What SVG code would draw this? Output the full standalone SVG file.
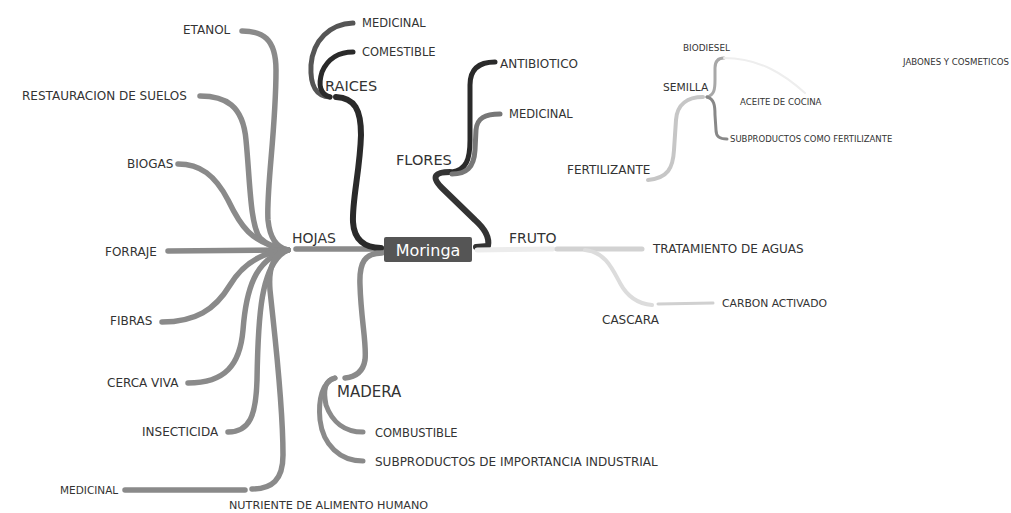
<svg xmlns="http://www.w3.org/2000/svg" width="1011" height="513" viewBox="0 0 1011 513">
<style>
text{font-family:"DejaVu Sans","Liberation Sans",sans-serif;fill:#333}
.l{font-size:12px}
.s{font-size:11.5px}
.xs{font-size:8.6px}
.m{font-size:14.5px}
path{fill:none;stroke-linecap:round;stroke-linejoin:round}
.g{stroke:#8a8a8a;stroke-width:5.5}
.d{stroke:#2a2a2a;stroke-width:6}
.dm{stroke:#555;stroke-width:5}
.mg{stroke:#777;stroke-width:5}
.lt{stroke:#d2d2d2;stroke-width:5}
</style>
<rect width="1011" height="513" fill="#fff"/>
<g id="connectors">
<path class="g" d="M383,249 L296,249"/>
<path class="g" d="M242,31 C262,31 276,38 276,70 C276,130 266,190 268,220 C270,240 278,248 288,250"/>
<path class="g" d="M200,96 C225,96 243,105 246,140 C250,180 250,225 260,238 C268,246 278,249 288,250"/>
<path class="g" d="M178,164 C200,164 215,175 228,200 C240,225 250,243 288,250"/>
<path class="g" d="M168,251 L288,250"/>
<path class="g" d="M162,322 C195,322 215,310 230,285 C242,265 260,252 288,250"/>
<path class="g" d="M188,383 C225,383 240,365 243,330 C246,290 255,258 288,250"/>
<path class="g" d="M228,432 C250,432 256,415 257,380 C258,320 260,262 288,250"/>
<path class="g" d="M252,489 C272,489 283,480 283,455 C283,400 274,330 270,290 C268,265 275,253 288,250"/>
<path class="g" d="M125,490 L245,490"/>
<path class="d" d="M336,97 C355,98 361,110 361,135 C360,170 352,200 353,222 C354,240 365,248 381,248"/>
<path class="dm" d="M330,97 C315,96 310,85 311,65 C313,40 330,24 353,23"/>
<path class="d" style="stroke-width:5" d="M330,97 C320,94 318,85 322,72 C328,58 340,52 353,52"/>
<path class="d" style="stroke:#333" d="M476,247 L488,246 C490,236 484,228 475,220 L442,188 C430,176 436,172 450,172"/>
<path class="d" style="stroke-width:5" d="M452,172 C466,170 470,160 470,140 L470,85 C470,70 478,62 495,62"/>
<path class="mg" d="M452,174 C466,174 474,168 475,150 L476,130 C477,118 485,114 500,114"/>
<path class="g" d="M382,253 C365,253 359,262 360,285 C361,320 367,345 365,360 C363,372 355,377 345,378"/>
<path class="g" style="stroke-width:5" d="M335,378 C325,380 323,390 326,405 C332,422 345,432 363,432"/>
<path class="g" style="stroke-width:5" d="M335,378 C322,382 318,400 320,420 C323,445 340,461 363,461"/>
<path stroke="#ececec" stroke-width="5" d="M477,250 L553,249"/>
<path class="lt" d="M557,249 L642,249"/>
<path stroke="#dcdcdc" stroke-width="4" d="M585,250 C605,252 612,268 620,283 C628,298 640,304 652,305"/>
<path stroke="#d0d0d0" stroke-width="3" d="M658,304 L713,303"/>
<path stroke="#c6c6c6" stroke-width="4" d="M648,180 C668,178 673,168 674,150 L676,120 C677,104 688,97 703,97"/>
<path stroke="#a8a8a8" stroke-width="3" d="M707,97 C714,95 715,90 715,80 L715,68 C715,60 719,58 724,58"/>
<path stroke="#888" stroke-width="3" d="M707,97 C714,99 715,105 715,115 L716,130 C716,137 720,139 727,139"/>
<path stroke="#eeeeee" stroke-width="2" d="M724,58 C760,58 785,75 805,93"/>
</g>
<g id="moringa"><rect x="384" y="237" width="88" height="25" rx="2" fill="#555"/><text x="428" y="256" font-size="16" text-anchor="middle" style="fill:#fff">Moringa</text></g>
<g id="hojas"><text class="m" x="292" y="243" style="font-size:14px">HOJAS</text></g>
<g id="etanol"><text class="l" x="183" y="34">ETANOL</text></g>
<g id="restauracion"><text class="l" x="22" y="100">RESTAURACION DE SUELOS</text></g>
<g id="biogas"><text class="l" x="127" y="168">BIOGAS</text></g>
<g id="forraje"><text class="l" x="105" y="256">FORRAJE</text></g>
<g id="fibras"><text class="l" x="110" y="325">FIBRAS</text></g>
<g id="cerca-viva"><text class="l" x="107" y="387">CERCA VIVA</text></g>
<g id="insecticida"><text class="l" x="142" y="436">INSECTICIDA</text></g>
<g id="medicinal-hojas"><text x="60" y="494" font-size="10.5">MEDICINAL</text></g>
<g id="nutriente"><text x="229" y="509" font-size="11.2">NUTRIENTE DE ALIMENTO HUMANO</text></g>
<g id="raices"><text class="m" x="325" y="91">RAICES</text></g>
<g id="medicinal-raices"><text class="s" x="362" y="27">MEDICINAL</text></g>
<g id="comestible"><text class="s" x="362" y="56">COMESTIBLE</text></g>
<g id="flores"><text class="m" x="396" y="165">FLORES</text></g>
<g id="antibiotico"><text class="l" x="500" y="68">ANTIBIOTICO</text></g>
<g id="medicinal-flores"><text class="s" x="509" y="118">MEDICINAL</text></g>
<g id="madera"><text x="337" y="397" font-size="15">MADERA</text></g>
<g id="combustible"><text class="s" x="375" y="437">COMBUSTIBLE</text></g>
<g id="subproductos-industrial"><text class="l" x="375" y="466">SUBPRODUCTOS DE IMPORTANCIA INDUSTRIAL</text></g>
<g id="fruto"><text x="509" y="243" font-size="14">FRUTO</text></g>
<g id="tratamiento"><text class="l" x="653" y="253">TRATAMIENTO DE AGUAS</text></g>
<g id="cascara"><text class="l" x="602" y="324">CASCARA</text></g>
<g id="carbon"><text x="722" y="307" font-size="10.8">CARBON ACTIVADO</text></g>
<g id="fertilizante"><text class="l" x="567" y="174">FERTILIZANTE</text></g>
<g id="semilla"><text x="663" y="91" font-size="10.7">SEMILLA</text></g>
<g id="biodiesel"><text x="683" y="51" font-size="8.9">BIODIESEL</text></g>
<g id="aceite"><text class="xs" x="740" y="105">ACEITE DE COCINA</text></g>
<g id="subproductos-fertilizante"><text class="xs" x="730" y="142" style="font-size:8.5px">SUBPRODUCTOS COMO FERTILIZANTE</text></g>
<g id="jabones"><text class="xs" x="903" y="65">JABONES Y COSMETICOS</text></g>
</svg>
